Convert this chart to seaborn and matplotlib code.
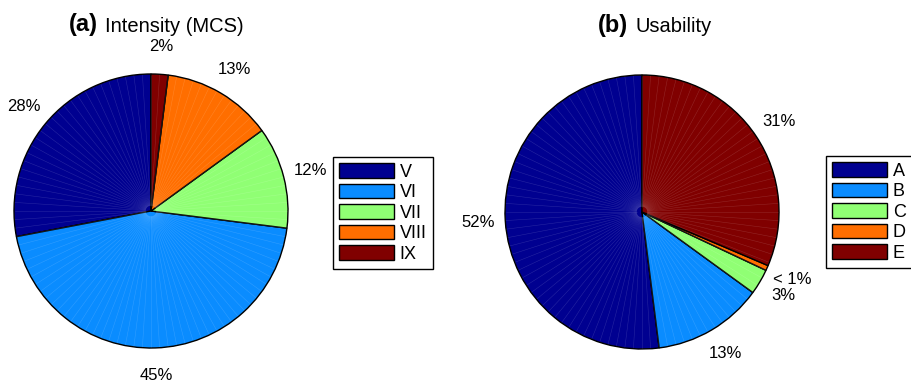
import numpy as np
import matplotlib
matplotlib.use("Agg")
import matplotlib.pyplot as plt
import seaborn as sns

# Intensity (MCS) shares, %
intensity_names = ["V", "VI", "VII", "VIII", "IX"]
intensity_pct = [28, 45, 12, 13, 2]

# Usability shares, %
usability_names = ["A", "B", "C", "D", "E"]
usability_pct = [52, 13, 3, 0.6, 31.4]

# Class colours (jet-like)
class_colors = ["#000090", "#0A8CFF", "#90FF74", "#FF6E00", "#800000"]

sns.set_theme(style="white")
plt.rcParams["font.family"] = ["Liberation Sans", "DejaVu Sans"]
plt.rcParams["text.color"] = "black"

W, H = 912, 385
fig = plt.figure(figsize=(W / 100, H / 100), dpi=100)
palette = sns.color_palette(class_colors)


def fmt(v):
    return "< 1%" if v < 1 else f"{v:.0f}%"


def draw_pie(cx, cy, r, values, names, legend_xy):
    ax = fig.add_axes([(cx - r) / W, 1 - (cy + r) / H, 2 * r / W, 2 * r / H])
    wedges, texts = ax.pie(
        values, colors=palette, startangle=90, counterclock=True,
        labels=[fmt(v) for v in values], labeldistance=1.2,
        wedgeprops=dict(edgecolor="black", linewidth=1.0),
        textprops=dict(fontsize=12, color="black"),
        normalize=True,
    )
    for t in texts:
        t.set_ha("center")
        t.set_va("center")
    # fine radial sheen across the slices
    for a in np.arange(0, 360, 3.6):
        th = np.deg2rad(a)
        ax.plot([0.04 * np.cos(th), np.cos(th) * 0.995],
                [0.04 * np.sin(th), np.sin(th) * 0.995],
                color="white", alpha=0.15, lw=0.4, zorder=3)
    ax.set_xlim(-1, 1)
    ax.set_ylim(-1, 1)
    ax.set_aspect("equal")
    ax.axis("off")
    leg = fig.legend(
        wedges, names, loc="upper left",
        bbox_to_anchor=(legend_xy[0] / W, 1 - legend_xy[1] / H),
        bbox_transform=fig.transFigure, borderaxespad=0,
        fontsize=13, fancybox=False, frameon=True,
        handlelength=3.05, handleheight=0.85, handletextpad=0.3,
        labelspacing=0.17, borderpad=0.35,
    )
    for t in leg.get_texts():
        t.set_color("black")
    fr = leg.get_frame()
    fr.set_edgecolor("black")
    fr.set_linewidth(1.0)
    fr.set_alpha(1)
    return ax


def draw_title(x_left, y_base, tag, text):
    t1 = fig.text(x_left / W, 1 - y_base / H, tag, fontsize=17,
                  fontweight="bold", va="baseline", ha="left")
    fig.canvas.draw()
    bb = t1.get_window_extent()
    fig.text((bb.x1 + 7) / W, 1 - y_base / H, text, fontsize=14.5,
             va="baseline", ha="left")


draw_pie(151, 211, 137, intensity_pct, intensity_names, (333, 157))
draw_pie(642, 212, 137, usability_pct, usability_names, (826, 156))

draw_title(69, 31.5, "(a)", "Intensity (MCS)")
draw_title(598, 32, "(b)", "Usability")

fig.savefig("out.png", dpi=100, facecolor="white")
